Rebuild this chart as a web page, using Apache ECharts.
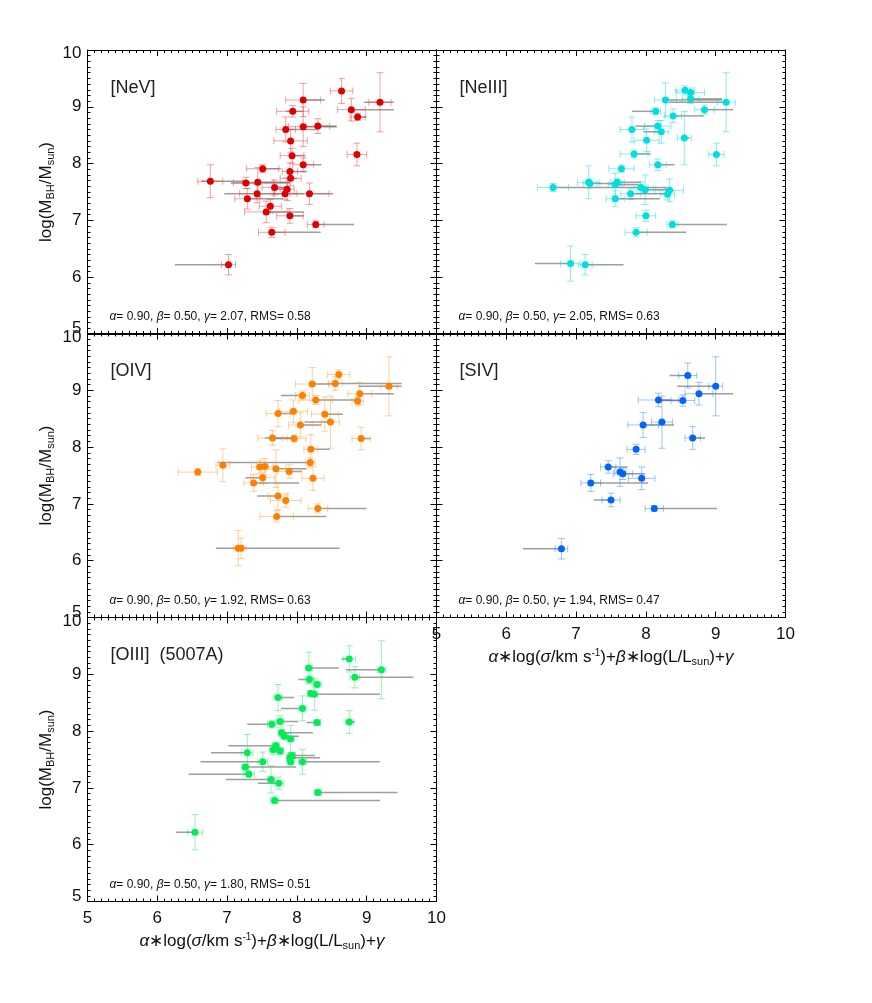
<!DOCTYPE html>
<html>
<head>
<meta charset="utf-8">
<script src="https://cdn.jsdelivr.net/npm/echarts@6/dist/echarts.min.js"></script>
<style>
html, body { margin: 0; padding: 0; background: #fff; }
#chart { width: 872px; height: 1003px; }
</style>
</head>
<body>
<div id="chart"></div>
<script>
// each row: [x, logMBH, xErr, yErr, grayFrom, grayTo]  (gray = null when absent)
const neV = [
  [8.64, 9.28, 0.16, 0.22, null, null], [9.19, 9.08, 0.16, 0.52, 8.96, 9.39],
  [8.09, 9.12, 0.25, 0.29, 8.09, 8.40], [7.94, 8.92, 0.23, 0.10, 7.84, 8.09],
  [8.78, 8.95, 0.20, 0.20, 8.78, 9.39], [8.87, 8.82, 0.11, 0.06, 8.83, 9.00],
  [7.84, 8.60, 0.14, 0.22, 7.84, 8.30], [8.09, 8.65, 0.21, 0.35, 8.09, 8.57],
  [8.30, 8.66, 0.17, 0.13, 8.30, 8.57], [7.91, 8.40, 0.24, 0.20, null, null],
  [7.93, 8.14, 0.17, 0.13, 7.93, 8.12], [8.86, 8.16, 0.14, 0.20, null, null],
  [8.09, 7.98, 0.15, 0.12, 8.09, 8.35], [7.51, 7.91, 0.23, 0.07, 7.51, 7.77],
  [7.90, 7.86, 0.11, 0.15, 7.90, 8.14], [7.91, 7.74, 0.15, 0.13, 7.91, 8.00],
  [6.76, 7.69, 0.18, 0.29, 6.63, 7.30], [7.27, 7.66, 0.18, 0.10, 7.05, 7.90],
  [7.44, 7.67, 0.22, 0.26, 7.44, 7.90], [7.68, 7.58, 0.18, 0.13, 7.68, 7.90],
  [7.86, 7.55, 0.10, 0.20, 7.70, 7.86], [7.83, 7.47, 0.17, 0.10, 7.83, 8.11],
  [7.43, 7.47, 0.25, 0.16, 6.96, 7.86], [8.18, 7.47, 0.28, 0.19, 8.18, 8.52],
  [7.29, 7.38, 0.18, 0.18, 7.29, 7.80], [7.62, 7.25, 0.16, 0.12, null, null],
  [7.56, 7.15, 0.31, 0.19, 7.56, 8.10], [7.90, 7.08, 0.19, 0.13, 7.90, 8.10],
  [8.27, 6.93, 0.12, 0.06, 8.27, 8.82], [7.64, 6.79, 0.19, 0.09, 7.64, 8.34],
  [7.02, 6.22, 0.10, 0.18, 6.25, 7.02]
];
const neIII = [
  [8.56, 9.29, 0.14, 0.08, null, null], [8.64, 9.25, 0.20, 0.08, null, null],
  [8.28, 9.12, 0.16, 0.30, 8.28, 9.09], [8.64, 9.14, 0.12, 0.08, 8.64, 9.09],
  [9.15, 9.08, 0.13, 0.52, 8.33, 9.15], [8.14, 8.92, 0.07, 0.06, 7.80, 8.14],
  [8.84, 8.95, 0.14, 0.08, 8.84, 9.25], [8.39, 8.84, 0.12, 0.12, 8.39, 8.83],
  [7.80, 8.60, 0.17, 0.22, null, null], [8.17, 8.66, 0.19, 0.10, 7.85, 8.17],
  [8.22, 8.56, 0.10, 0.20, 7.97, 8.22], [8.55, 8.45, 0.10, 0.47, 8.55, 8.62],
  [8.01, 8.41, 0.18, 0.20, null, null], [7.83, 8.17, 0.20, 0.07, 7.83, 8.07],
  [9.01, 8.16, 0.11, 0.20, null, null], [8.17, 7.98, 0.12, 0.10, 8.17, 8.41],
  [7.65, 7.91, 0.18, 0.06, null, null], [6.67, 7.58, 0.22, 0.07, 6.67, 7.59],
  [7.18, 7.67, 0.16, 0.29, null, null], [7.20, 7.65, 0.10, 0.08, 7.20, 7.55],
  [7.59, 7.67, 0.10, 0.06, 7.59, 7.93], [7.56, 7.63, 0.10, 0.20, 7.56, 7.90],
  [7.93, 7.58, 0.10, 0.10, 7.59, 8.30], [7.99, 7.54, 0.12, 0.26, 7.99, 8.39],
  [7.78, 7.47, 0.14, 0.10, 7.78, 8.35], [8.34, 7.53, 0.20, 0.20, null, null],
  [8.31, 7.46, 0.10, 0.10, null, null], [7.56, 7.38, 0.13, 0.14, 7.56, 8.20],
  [8.00, 7.08, 0.14, 0.10, null, null], [8.38, 6.93, 0.08, 0.06, 8.38, 9.16],
  [7.86, 6.79, 0.16, 0.08, 7.86, 8.58], [6.92, 6.24, 0.14, 0.31, 6.41, 6.92],
  [7.13, 6.22, 0.10, 0.18, 7.13, 7.68]
];
const oIV = [
  [8.60, 9.28, 0.16, 0.08, null, null], [8.55, 9.12, 0.10, 0.12, 8.55, 9.50],
  [8.22, 9.11, 0.24, 0.29, 8.22, 8.55], [9.32, 9.07, 0.12, 0.52, 8.88, 9.50],
  [8.90, 8.94, 0.17, 0.20, 8.90, 9.39], [8.08, 8.91, 0.10, 0.08, 7.77, 8.08],
  [8.27, 8.83, 0.24, 0.08, 8.27, 8.86], [8.87, 8.81, 0.08, 0.07, null, null],
  [7.73, 8.59, 0.17, 0.23, 7.73, 7.97], [7.95, 8.63, 0.20, 0.20, null, null],
  [8.40, 8.58, 0.19, 0.30, 8.40, 8.66], [8.05, 8.39, 0.17, 0.21, 8.05, 8.35],
  [8.48, 8.44, 0.13, 0.46, 8.11, 8.48], [7.65, 8.16, 0.21, 0.13, 7.54, 7.97],
  [7.96, 8.15, 0.17, 0.06, 7.65, 7.96], [8.92, 8.15, 0.13, 0.20, 8.92, 9.06],
  [8.20, 7.96, 0.10, 0.26, 8.20, 8.47], [6.94, 7.68, 0.10, 0.29, null, null],
  [6.58, 7.56, 0.28, 0.06, null, null], [8.19, 7.73, 0.07, 0.08, 6.86, 8.19],
  [7.47, 7.65, 0.12, 0.12, null, null], [7.54, 7.66, 0.12, 0.14, null, null],
  [7.70, 7.62, 0.14, 0.33, 7.70, 8.14], [7.89, 7.57, 0.17, 0.12, 7.89, 8.07],
  [8.23, 7.45, 0.16, 0.21, null, null], [7.51, 7.46, 0.17, 0.10, 7.26, 7.51],
  [7.38, 7.37, 0.14, 0.15, 7.38, 8.03], [7.73, 7.14, 0.14, 0.24, 7.43, 7.73],
  [7.84, 7.06, 0.22, 0.12, null, null], [8.30, 6.92, 0.14, 0.08, 8.30, 9.00],
  [7.71, 6.78, 0.24, 0.10, 7.71, 8.42], [7.16, 6.22, 0.07, 0.31, 6.84, 7.16],
  [7.20, 6.22, 0.07, 0.18, 7.20, 8.61]
];
const sIV = [
  [8.60, 9.26, 0.13, 0.22, 8.34, 8.60], [9.00, 9.07, 0.10, 0.52, 8.45, 9.00],
  [8.76, 8.94, 0.20, 0.20, 8.76, 9.25], [8.18, 8.83, 0.29, 0.12, 8.18, 8.36],
  [8.53, 8.82, 0.17, 0.10, 8.18, 8.53], [7.96, 8.39, 0.22, 0.22, 7.96, 8.40],
  [8.23, 8.44, 0.15, 0.46, null, null], [8.67, 8.16, 0.11, 0.20, 8.67, 8.85],
  [7.86, 7.96, 0.13, 0.09, null, null], [7.46, 7.65, 0.11, 0.11, 7.46, 7.74],
  [7.63, 7.56, 0.08, 0.25, null, null], [7.67, 7.53, 0.14, 0.10, 7.67, 7.99],
  [7.94, 7.45, 0.19, 0.20, null, null], [7.21, 7.37, 0.14, 0.15, 7.21, 8.03],
  [7.50, 7.07, 0.13, 0.12, 7.25, 7.50], [8.12, 6.92, 0.13, 0.05, 8.12, 9.02],
  [6.79, 6.21, 0.09, 0.18, 6.24, 6.79]
];
const oIII = [
  [8.75, 9.27, 0.09, 0.23, 8.64, 8.75], [8.17, 9.11, 0.05, 0.28, 8.17, 8.60],
  [9.21, 9.08, 0.06, 0.51, 8.70, 9.21], [8.83, 8.95, 0.07, 0.19, 8.83, 9.67],
  [8.18, 8.91, 0.06, 0.06, 8.02, 8.18], [8.29, 8.82, 0.06, 0.06, null, null],
  [8.20, 8.66, 0.05, 0.05, null, null], [8.25, 8.65, 0.05, 0.28, 8.25, 9.19],
  [7.73, 8.59, 0.06, 0.23, 7.73, 7.96], [8.08, 8.40, 0.05, 0.22, 7.77, 8.08],
  [7.64, 8.12, 0.06, 0.06, 7.29, 7.64], [7.76, 8.17, 0.05, 0.10, 7.76, 8.02],
  [8.29, 8.15, 0.05, 0.05, 8.14, 8.29], [8.75, 8.16, 0.06, 0.20, 8.75, 8.83],
  [7.78, 7.97, 0.05, 0.06, 7.78, 8.23], [7.82, 7.91, 0.06, 0.05, 7.82, 8.03],
  [7.91, 7.86, 0.05, 0.24, null, null], [7.70, 7.74, 0.05, 0.06, 7.02, 7.70],
  [7.66, 7.67, 0.05, 0.08, null, null], [7.76, 7.65, 0.05, 0.06, null, null],
  [7.29, 7.62, 0.08, 0.32, 6.77, 7.29], [7.93, 7.57, 0.05, 0.05, 7.93, 8.26],
  [7.90, 7.53, 0.05, 0.06, 7.90, 8.33], [7.51, 7.46, 0.07, 0.17, 6.62, 7.51],
  [7.91, 7.46, 0.05, 0.06, null, null], [8.08, 7.46, 0.06, 0.22, 8.08, 9.19],
  [7.26, 7.37, 0.05, 0.05, 7.26, 7.99], [7.31, 7.24, 0.08, 0.05, 6.45, 7.31],
  [7.63, 7.15, 0.05, 0.24, 6.98, 7.63], [7.74, 7.08, 0.07, 0.11, 7.44, 7.74],
  [8.30, 6.92, 0.05, 0.05, 8.30, 9.44], [7.68, 6.78, 0.06, 0.06, 7.68, 9.19],
  [6.54, 6.22, 0.11, 0.31, 6.27, 6.54]
];

const lineNames = ['[NeV]', '[NeIII]', '[OIV]', '[SIV]', '[OIII]  (5007A)'];
const gammas = ['2.07', '2.05', '1.92', '1.94', '1.80'];
const rmsValues = ['0.58', '0.63', '0.63', '0.47', '0.51'];
const alphaVal = '0.90';
const betaVal = '0.50';

const panels = [
  { data: neV,   dot: '#dd0000', bar: 'rgba(235,70,70,0.5)',  left: 87.5,  top: 50,    yLab: true,  xLab: false },
  { data: neIII, dot: '#00dede', bar: 'rgba(0,215,215,0.45)', left: 436.5, top: 50,    yLab: false, xLab: false },
  { data: oIV,   dot: '#ff7f00', bar: 'rgba(255,150,40,0.45)', left: 87.5, top: 333.5, yLab: true,  xLab: false },
  { data: sIV,   dot: '#0064ff', bar: 'rgba(40,125,255,0.45)', left: 436.5, top: 333.5, yLab: false, xLab: true },
  { data: oIII,  dot: '#00ee55', bar: 'rgba(0,225,100,0.42)', left: 87.5,  top: 617.5, yLab: true,  xLab: true }
];
const W = 349, H = 284;
const FONT = 'Liberation Sans';

const chart = echarts.init(document.getElementById('chart'));

const xName = '{i|α}∗log({i|σ}/km s{sup|-1})+{i|β}∗log(L/L{sub|sun})+{i|γ}';
const yName = 'log(M{sub|BH}/M{sub|sun})';
const nameRich = {
  i: { fontStyle: 'italic', fontSize: 17, fontFamily: FONT, color: '#111' },
  sub: { fontSize: 11, fontFamily: FONT, color: '#111', padding: [9, 0, 0, 0] },
  sup: { fontSize: 10, fontFamily: FONT, color: '#111', padding: [0, 0, 9, 0] }
};

const grid = [], xAxis = [], yAxis = [], series = [], title = [];

function tickCfg() {
  return {
    axisLine: { show: true, onZero: false, lineStyle: { color: '#000', width: 1 } },
    axisTick: { show: true, inside: true, length: 6, lineStyle: { color: '#000' } },
    minorTick: { show: true, splitNumber: 10, length: 3, lineStyle: { color: '#000' } },
    splitLine: { show: false },
    minorSplitLine: { show: false }
  };
}

panels.forEach(function (p, i) {
  grid.push({ left: p.left, top: p.top, width: W, height: H });
  xAxis.push(Object.assign({
    type: 'value', gridIndex: i, position: 'bottom', min: 5, max: 10, interval: 1,
    axisLabel: { show: p.xLab, fontSize: 17, fontFamily: FONT, color: '#111', margin: 8 },
    name: p.xLab ? xName : '', nameLocation: 'middle', nameGap: 30,
    nameTextStyle: { fontSize: 17, fontFamily: FONT, color: '#111', rich: nameRich }
  }, tickCfg()));
  xAxis.push(Object.assign({
    type: 'value', gridIndex: i, position: 'top', min: 5, max: 10, interval: 1,
    axisLabel: { show: false }
  }, tickCfg()));
  yAxis.push(Object.assign({
    type: 'value', gridIndex: i, position: 'left', min: 5, max: 10, interval: 1,
    axisLabel: {
      show: p.yLab, fontSize: 17, fontFamily: FONT, color: '#111', margin: 6,
      formatter: function (v) {
        if (v === 5) return '{lo|5}';
        if (v === 10) return '{hi|10}';
        return String(v);
      },
      rich: {
        lo: { fontSize: 17, fontFamily: FONT, color: '#111', padding: [0, 0, 11, 0] },
        hi: { fontSize: 17, fontFamily: FONT, color: '#111', padding: [7, 0, 0, 0] }
      }
    },
    name: p.yLab ? yName : '', nameLocation: 'middle', nameGap: 31, nameRotate: 90,
    nameTextStyle: { fontSize: 17, fontFamily: FONT, color: '#111', rich: nameRich }
  }, tickCfg()));
  yAxis.push(Object.assign({
    type: 'value', gridIndex: i, position: 'right', min: 5, max: 10, interval: 1,
    axisLabel: { show: false }
  }, tickCfg()));

  const rows = p.data.map(function (r) {
    return [r[0], r[1], r[2], r[3], r[4] == null ? -1 : r[4], r[5] == null ? -1 : r[5]];
  });

  series.push({
    type: 'custom',
    xAxisIndex: 2 * i, yAxisIndex: 2 * i,
    clip: true,
    silent: true,
    z: 2,
    encode: { x: 0, y: 1 },
    data: rows,
    renderItem: function (params, api) {
      const x = api.value(0), y = api.value(1), xe = api.value(2), ye = api.value(3);
      const g0 = api.value(4), g1 = api.value(5);
      const c = api.coord([x, y]);
      const xl = api.coord([x - xe, y])[0], xr = api.coord([x + xe, y])[0];
      const yt = api.coord([x, y + ye])[1], yb = api.coord([x, y - ye])[1];
      const bar = { stroke: p.bar, lineWidth: 1 };
      const cap = 3.5;
      const kids = [];
      if (g0 >= 0) {
        const a = api.coord([g0, y])[0], b = api.coord([g1, y])[0];
        kids.push({ type: 'line', shape: { x1: a, y1: c[1], x2: b, y2: c[1] },
          style: { stroke: 'rgba(95,95,95,0.6)', lineWidth: 1.5 } });
      }
      kids.push({ type: 'line', shape: { x1: xl, y1: c[1], x2: xr, y2: c[1] }, style: bar });
      kids.push({ type: 'line', shape: { x1: xl, y1: c[1] - cap, x2: xl, y2: c[1] + cap }, style: bar });
      kids.push({ type: 'line', shape: { x1: xr, y1: c[1] - cap, x2: xr, y2: c[1] + cap }, style: bar });
      kids.push({ type: 'line', shape: { x1: c[0], y1: yt, x2: c[0], y2: yb }, style: bar });
      kids.push({ type: 'line', shape: { x1: c[0] - cap, y1: yt, x2: c[0] + cap, y2: yt }, style: bar });
      kids.push({ type: 'line', shape: { x1: c[0] - cap, y1: yb, x2: c[0] + cap, y2: yb }, style: bar });
      return { type: 'group', children: kids };
    }
  });
  series.push({
    type: 'scatter',
    xAxisIndex: 2 * i, yAxisIndex: 2 * i,
    symbol: 'circle', symbolSize: 7,
    z: 3,
    itemStyle: { color: p.dot, opacity: 1 },
    data: rows.map(function (r) { return [r[0], r[1]]; })
  });

  title.push({
    text: lineNames[i], left: p.left + 18, top: p.top + 24,
    textStyle: { fontSize: 18, fontWeight: 'normal', fontFamily: FONT, color: '#222' }
  });
  title.push({
    text: '{g|α}= ' + alphaVal + ', {g|β}= ' + betaVal + ', {g|γ}= ' + gammas[i] + ', RMS= ' + rmsValues[i],
    left: p.left + 17, top: p.top + H - 28,
    textStyle: {
      fontSize: 12, fontWeight: 'normal', fontFamily: FONT, color: '#111',
      rich: { g: { fontStyle: 'italic', fontSize: 12, fontFamily: FONT, color: '#111' } }
    }
  });
});

const option = {
  backgroundColor: '#fff',
  animation: false,
  title: title,
  grid: grid,
  xAxis: xAxis,
  yAxis: yAxis,
  series: series
};
chart.setOption(option);
window.addEventListener('resize', function () {
  chart.resize();
});
</script>
</body>
</html>
